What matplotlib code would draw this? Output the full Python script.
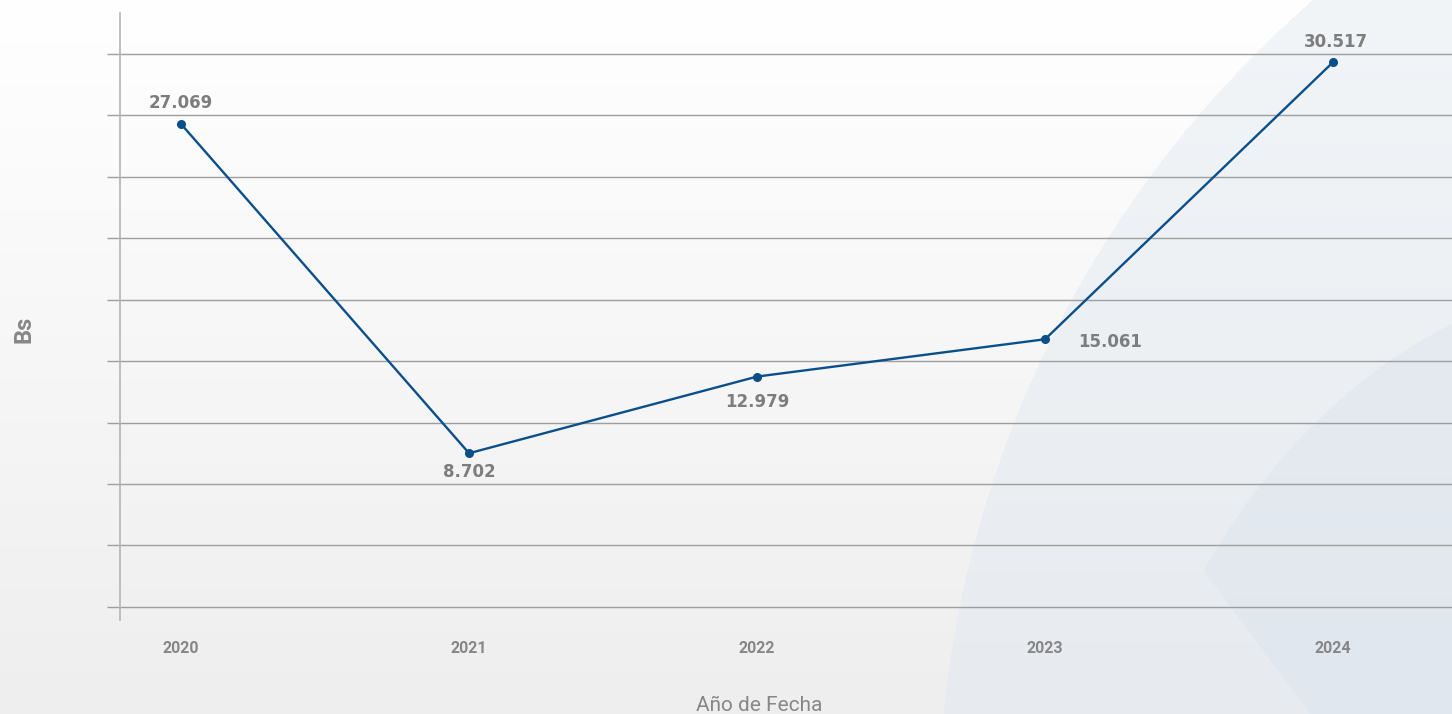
import numpy as np
import matplotlib
matplotlib.use("Agg")
import matplotlib.pyplot as plt
from matplotlib.path import Path

# ---- data ----
years = ["2020", "2021", "2022", "2023", "2024"]
values = [27.069, 8.702, 12.979, 15.061, 30.517]
labels = ["27.069", "8.702", "12.979", "15.061", "30.517"]
x_title = "Año de Fecha"
y_title = "Bs"

W, H = 1452, 714
fig = plt.figure(figsize=(W / 100, H / 100), dpi=100)

# ---- background decoration ----
yy, xx = np.mgrid[0:H, 0:W].astype(float)
t = yy / H
base_top = np.array([255, 255, 255]) / 255
base_bot = np.array([238, 238, 239]) / 255
img = base_top[None, None, :] * (1 - t[..., None]) + base_bot[None, None, :] * t[..., None]

def circle3(p1, p2, p3):
    (x1, y1), (x2, y2), (x3, y3) = p1, p2, p3
    d = 2 * (x1 * (y2 - y3) + x2 * (y3 - y1) + x3 * (y1 - y2))
    ux = ((x1**2 + y1**2) * (y2 - y3) + (x2**2 + y2**2) * (y3 - y1) + (x3**2 + y3**2) * (y1 - y2)) / d
    uy = ((x1**2 + y1**2) * (x3 - x2) + (x2**2 + y2**2) * (x1 - x3) + (x3**2 + y3**2) * (x2 - x1)) / d
    r = np.hypot(x1 - ux, y1 - uy)
    return ux, uy, r

cx, cy, r = circle3((1312, 0), (1050, 340), (943, 714))
inside = (xx - cx) ** 2 + (yy - cy) ** 2 <= r ** 2
c_top = np.array([241, 245, 248]) / 255
c_bot = np.array([231, 235, 239]) / 255
shape_col = c_top[None, None, :] * (1 - t[..., None]) + c_bot[None, None, :] * t[..., None]
img[inside] = shape_col[inside]

ts = np.linspace(0, 1, 40)
p0 = np.array([1452, 323]); pc = np.array([1300, 400]); p1 = np.array([1203, 570])
curve = [((1 - s) ** 2) * p0 + 2 * (1 - s) * s * pc + s ** 2 * p1 for s in ts]
poly = np.vstack([curve, [[1310, 714], [1452, 714]]])
mask2 = Path(poly).contains_points(np.c_[xx.ravel(), yy.ravel()]).reshape(H, W)
c2_top = np.array([232, 237, 242]) / 255
c2_bot = np.array([225, 231, 238]) / 255
shape2 = c2_top[None, None, :] * (1 - t[..., None]) + c2_bot[None, None, :] * t[..., None]
img[mask2] = shape2[mask2]

bg = fig.add_axes([0, 0, 1, 1], zorder=-1)
bg.imshow(img, aspect="auto", extent=[0, W, H, 0], interpolation="bilinear")
bg.set_axis_off()

# ---- main axes ----
left, right, top, bottom = 120, 1452, 13, 620
ax = fig.add_axes([left / W, (H - bottom) / H, (right - left) / W, (bottom - top) / H])
ax.set_facecolor("none")

xs = np.arange(len(years))
ax.plot(xs, values, color="#0a4f8a", lw=1.7, marker="o", ms=5.5, zorder=3, clip_on=False)

ax.set_xlim(-0.212, 4.413)
ax.set_ylim(-0.60, 33.26)
grid_ticks = 0.13 + 3.428 * np.arange(10)
ax.set_yticks(grid_ticks)
ax.set_yticklabels([])
ax.grid(axis="y", color="#9e9e9e", lw=1.0)
ax.tick_params(axis="y", length=9.4, width=1.0, color="#9e9e9e")

ax.set_xticks(xs)
ax.set_xticklabels(years, fontsize=11.5, fontweight="bold", family="Roboto", color="#878787")
ax.tick_params(axis="x", length=0, pad=15)

for s in ["top", "right", "bottom"]:
    ax.spines[s].set_visible(False)
ax.spines["left"].set_color("#b4b4b4")
ax.spines["left"].set_linewidth(1.2)

offsets = [(0, 21), (0, -19), (0, -25), (65, -3), (3, 20)]
for xi, v, lab, (dx, dy) in zip(xs, values, labels, offsets):
    ax.annotate(lab, (xi, v), xytext=(dx * 0.72, dy * 0.72), textcoords="offset points",
                ha="center", va="center", fontsize=12, fontweight="bold", color="#7d7d7d")

fig.text(759 / W, (H - 711) / H, x_title, ha="center", va="baseline",
         fontsize=15, family="Roboto", color="#878787")
fig.text(24 / W, (H - 329) / H, y_title, ha="center", va="center", rotation=90,
         fontsize=17, fontweight="bold", family="Roboto", color="#878787")

fig.savefig("out.png", dpi=100)
